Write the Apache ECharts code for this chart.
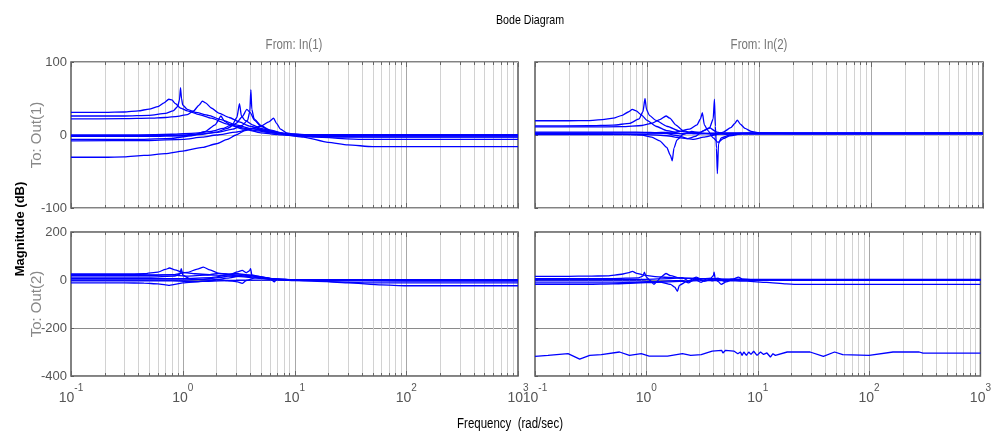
<!DOCTYPE html>
<html>
<head>
<meta charset="utf-8">
<title>Bode Diagram</title>
<script src="https://cdn.jsdelivr.net/npm/echarts@6/dist/echarts.min.js"></script>
<style>
  html, body { margin: 0; padding: 0; background: #fff; }
  #chart { width: 994px; height: 437px; }
</style>
</head>
<body>
<div id="chart"></div>
<script>
// Magnitude responses, [frequency rad/s, dB], one array per curve.

// From In(1) to Out(1)
const tl1 = [[0.1,31],[0.2,31],[0.3,31.5],[0.4,33],[0.5,35.5],[0.6,39],[0.68,44],[0.75,49],[0.8,48],[0.86,43],[0.95,37],[1.1,33],[1.4,28],[1.8,23],[2.5,15],[3.5,8],[5,3],[7,0.5],[10,-1],[20,-3],[1000,-3]];
const tl2 = [[0.1,26],[0.3,26],[0.5,27],[0.7,29.5],[0.82,33],[0.9,39],[0.935,48],[0.955,65],[0.975,50],[1.0,41],[1.1,35],[1.3,31],[1.7,27],[2.2,21],[3,14],[4,9],[6,4],[9,1],[15,-1],[1000,-1]];
const tl3 = [[0.1,22],[0.3,22.3],[0.5,23],[0.7,24],[0.9,25.5],[1.1,28],[1.25,33],[1.4,41],[1.5,46.5],[1.6,44],[1.8,37],[2.1,30],[2.6,24],[3.2,18],[4,12],[5.5,6],[8,2],[12,0],[1000,-0.5]];
const tl4 = [[0.1,0],[0.4,0.3],[0.8,1],[1.3,2.5],[1.8,5],[2.3,9],[2.8,15],[3.05,24],[3.22,43],[3.35,26],[3.6,20],[4.2,14],[5,9],[6.5,4],[9,1],[15,0],[1000,0]];
const tl5 = [[0.1,-1],[0.5,-0.7],[1,0],[1.5,1.5],[2,3.5],[2.8,8],[3.4,13],[3.8,20],[3.98,32],[4.07,62],[4.15,35],[4.35,22],[5,13],[6,7],[8,2.5],[10,0],[20,-2],[50,-2.5],[1000,-2.5]];
const tl6 = [[0.1,-2],[0.5,-1.8],[1,-1],[1.5,1],[2,4],[2.5,9],[3,16],[3.4,25],[3.75,35],[4.0,31],[4.4,20],[5,12],[6,6],[8,2],[10,0],[30,0],[1000,0]];
const tl7 = [[0.1,-6],[0.4,-6],[0.8,-4.5],[1.2,-1],[1.6,5],[1.95,14],[2.2,26],[2.35,19],[2.6,15],[3,12],[3.6,9],[4.5,6],[6,3],[9,0],[15,-3],[40,-6],[1000,-6]];
const tl8 = [[0.1,-8],[0.5,-7.5],[1,-6],[1.5,-3],[2,0],[3,4],[4,8],[5,12],[5.9,18],[6.5,23],[6.9,16],[7.5,8],[8.5,3],[10,1],[15,0],[1000,0]];
const tl9 = [[0.1,-30.5],[0.2,-30.5],[0.3,-30],[0.45,-28],[0.7,-25.5],[1,-22],[1.5,-17],[2,-12],[2.5,-6],[3,0],[3.6,6],[4.2,9],[5,7],[6.5,3],[8.5,0],[12,-3],[20,-10],[30,-13.5],[50,-16],[1000,-16]];

// From In(2) to Out(1)
const tr1 = [[0.1,19.5],[0.2,19.5],[0.3,19.7],[0.4,21],[0.5,23],[0.6,27],[0.68,31.5],[0.74,35],[0.8,33],[0.9,27],[1,20],[1.2,12],[1.5,6],[2,2],[3,2],[10,2.5],[1000,2.5]];
const tr2 = [[0.1,12.5],[0.3,12.7],[0.5,13.5],[0.7,16],[0.85,22],[0.92,32],[0.96,50],[0.99,35],[1.05,27],[1.2,20],[1.5,12],[2,5],[2.8,2],[5,3],[1000,3]];
const tr3 = [[0.1,11],[0.3,11],[0.6,11.5],[0.9,13],[1.1,16],[1.3,21],[1.48,26],[1.6,23],[1.8,14],[2.1,6],[2.6,2],[4,2],[1000,2]];
const tr4 = [[0.1,2],[0.5,1.5],[0.9,0],[1.1,-3],[1.3,-8],[1.5,-17],[1.62,-28],[1.68,-35.5],[1.74,-18],[1.85,-7],[2.1,1],[2.5,5],[3,3],[4,1],[7,2],[1000,2]];
const tr5 = [[0.1,1],[1,1.5],[2,2],[3,4],[3.6,9],[3.9,22],[4.0,49],[4.08,12],[4.17,-18],[4.25,-53],[4.35,-12],[4.6,-4],[5.5,0],[7,1.5],[1000,1.5]];
const tr6 = [[0.1,3],[1,3],[1.8,4],[2.4,8],[2.8,14],[3.0,22],[3.12,30.5],[3.25,14],[3.5,6],[3.9,-4],[4.3,-10],[4.8,-5],[5.5,-1],[7,1.5],[1000,2]];
const tr7 = [[0.1,0.5],[1,0.5],[1.5,-1],[2,-4],[2.6,-6],[3.2,-3],[4,0],[4.8,4],[5.6,10],[6.1,16],[6.4,20.5],[6.8,15],[7.5,9],[8.5,5],[10,3],[20,2],[1000,2]];
const tr8 = [[0.1,4],[0.8,4],[1.4,3],[1.9,-1],[2.3,-5],[2.7,-2],[3.2,6],[3.6,10],[4.2,4],[5,1],[8,2.5],[1000,3]];

// From In(1) to Out(2)
const bl1 = [[0.1,25],[0.3,25],[0.45,26],[0.6,33],[0.7,44],[0.76,50],[0.85,42],[1,32],[1.3,26],[2,20],[3,15],[5,7],[8,2],[12,0],[1000,0]];
const bl2 = [[0.1,-12],[0.3,-12],[0.45,-13],[0.6,-16],[0.7,-20],[0.76,-22],[0.85,-18],[1,-12],[1.5,-6],[3,-1],[8,0],[15,-3],[30,-12],[60,-20],[100,-24],[1000,-24]];
const bl3 = [[0.1,18],[0.5,18.5],[0.8,22],[1.1,32],[1.35,45],[1.53,54],[1.75,42],[2.1,28],[2.8,22],[4,14],[6,6],[10,0],[30,-3],[100,-5],[1000,-5]];
const bl4 = [[0.1,12],[0.5,12],[0.85,16],[0.94,25],[0.97,47],[1.0,20],[1.15,6],[1.5,2],[2,9],[2.8,18],[3.5,22],[4.5,16],[6.5,4],[10,-1],[1000,-1]];
const bl5 = [[0.1,6],[1,6],[1.8,10],[2.6,22],[3.1,34],[3.4,40],[3.7,30],[3.95,38],[4.05,47],[4.15,20],[4.8,10],[6.2,2],[6.6,-8],[6.9,3],[10,0],[1000,0]];
const bl6 = [[0.1,0],[1,0],[1.8,4],[2.5,-2],[3.1,-8],[3.4,-14],[3.7,-2],[4.5,10],[5.5,8],[7,3],[10,-3],[20,-7],[50,-12],[1000,-12]];
const bl7 = [[0.1,-4],[0.8,-4],[1.3,-7],[1.8,-2],[2.5,8],[3.3,16],[4.2,20],[5.2,12],[6.5,4],[10,1],[1000,1]];
const bl8 = [[0.1,22],[0.4,22],[0.8,21],[1.1,16],[1.6,20],[2.1,28],[2.5,24],[3,27],[3.8,21],[5,12],[7,4],[10,0],[20,-2],[1000,-2]];

// From In(2) to Out(2)
const br1 = [[0.1,15],[0.2,15.5],[0.3,16],[0.45,17.5],[0.6,24],[0.7,31],[0.75,36],[0.82,28],[0.95,20],[1.2,14],[1.8,9],[3,5],[6,2],[10,0],[1000,0]];
const br2 = [[0.1,6],[0.5,6],[0.85,9],[0.93,16],[0.96,33],[1.0,12],[1.08,-2],[1.17,-18],[1.25,-5],[1.35,12],[1.5,27],[1.65,18],[2,8],[3,7],[5,4],[10,2],[1000,2]];
const br3 = [[0.1,-4],[0.8,-4],[1.3,-8],[1.65,-18],[1.8,-30],[1.9,-47],[1.98,-22],[2.3,-6],[3,3],[3.8,8],[4.0,18],[4.06,33],[4.15,6],[4.4,-6],[4.7,-18],[5.2,-8],[6,3],[6.7,12],[7.3,4],[9,1],[1000,0]];
const br4 = [[0.1,-12],[0.5,-12],[1,-9],[1.6,-4],[2.1,-2],[2.4,-12],[2.7,4],[3.1,-10],[3.5,6],[3.9,-4],[4.4,4],[5.2,0],[10,0],[1000,0]];
const br5 = [[0.1,-18],[0.3,-18],[0.5,-16],[1,-11],[2,-6],[3,-3],[5,-2],[8,-5],[12,-10],[18,-16],[22,-18],[1000,-18]];
const br6 = [[0.1,3],[1,3],[1.6,6],[2.1,10],[2.4,-4],[2.8,12],[3.3,-6],[3.8,2],[4.4,8],[5,-6],[5.8,4],[7,2],[10,1],[1000,1]];
const br7 = [[0.1,-318],[0.131,-314],[0.198,-307],[0.252,-330],[0.31,-314],[0.394,-311],[0.574,-300],[0.705,-314],[0.9,-307],[1.06,-317],[1.55,-317],[2.11,-307],[2.5,-314],[3.11,-311],[3.9,-296],[4.74,-293],[4.87,-304],[5.14,-293],[6.1,-296],[6.63,-307],[7.0,-300],[7.24,-314],[7.5,-300],[7.92,-314],[8.3,-300],[8.7,-310],[9.2,-297],[9.86,-314],[10.6,-300],[11.3,-310],[12.1,-304],[13,-321],[13.7,-307],[14.4,-314],[14.9,-307],[18.4,-300],[29.5,-300],[38.9,-318],[49,-300],[58,-311],[100,-314],[164,-300],[282,-300],[305,-305],[1000,-305]];

const panelCurves = [
  [tl1, tl2, tl3, tl4, tl5, tl6, tl7, tl8, tl9],
  [tr1, tr2, tr3, tr4, tr5, tr6, tr7, tr8],
  [bl1, bl2, bl3, bl4, bl5, bl6, bl7, bl8],
  [br1, br2, br3, br4, br5, br6, br7]
];

// Axis ranges and tick steps
const freqMin = 0.1, freqMax = 1000;
const topRange = { min: -100, max: 100, interval: 100 };
const bottomRange = { min: -400, max: 200, interval: 200 };

// Log grid positions: 1..9 within each decade
const gridFreqs = [];
for (let d = -1; d <= 2; d++) {
  for (let k = 1; k <= 9; k++) gridFreqs.push(+(k * Math.pow(10, d)).toPrecision(3));
}
gridFreqs.push(1000);

const sans = '"Liberation Sans", Arial, sans-serif';

const grids = [
  { left: 71, top: 62, width: 447, height: 146 },
  { left: 535, top: 62, width: 448, height: 146 },
  { left: 71, top: 232, width: 447, height: 144 },
  { left: 535, top: 232, width: 448, height: 144 }
].map(g => Object.assign({ show: true, borderColor: '#5a5a5a', borderWidth: 1.5, backgroundColor: '#fff', containLabel: false }, g));

const xAxes = grids.map((g, i) => ({
  type: 'log',
  logBase: 10,
  gridIndex: i,
  min: freqMin,
  max: freqMax,
  axisLine: { show: false },
  axisTick: { show: false },
  splitLine: { show: false },
  axisLabel: {
    show: i >= 2,
    margin: 7,
    showMinLabel: true,
    showMaxLabel: true,
    formatter: v => '{b|10}{e|' + Math.round(Math.log10(v)) + '}',
    rich: {
      b: { fontFamily: sans, fontSize: 14, color: '#555', verticalAlign: 'bottom', lineHeight: 22 },
      e: { fontFamily: sans, fontSize: 10, color: '#555', verticalAlign: 'top', lineHeight: 22 }
    }
  }
}));

const yAxes = grids.map((g, i) => {
  const r = i < 2 ? topRange : bottomRange;
  return {
    type: 'value',
    gridIndex: i,
    min: r.min,
    max: r.max,
    interval: r.interval,
    axisLine: { show: false },
    axisTick: { show: true, inside: true, length: 3, lineStyle: { color: '#5a5a5a' } },
    splitLine: { show: true, lineStyle: { color: i < 2 ? '#c4c4c4' : '#8a8a8a', width: 1 } },
    axisLabel: { show: i === 0 || i === 2, color: '#555', fontFamily: sans, fontSize: 13, margin: 4 }
  };
});

// Vertical log grid with small ticks along the top and bottom edges
function gridSeries(i) {
  return {
    type: 'custom',
    xAxisIndex: i,
    yAxisIndex: i,
    silent: true,
    z: 1,
    clip: false,
    data: gridFreqs.map(f => [f]),
    encode: { x: 0 },
    renderItem: (params, api) => {
      const f = api.value(0);
      const cs = params.coordSys;
      const x = Math.round(api.coord([f, 0])[0]) + 0.5;
      const decade = Math.abs(Math.log10(f) - Math.round(Math.log10(f))) < 1e-6;
      const children = [];
      if (f > freqMin && f < freqMax) {
        children.push({
          type: 'line',
          shape: { x1: x, y1: cs.y, x2: x, y2: cs.y + cs.height },
          style: { stroke: decade ? '#a8a8a8' : '#d2d2d2', lineWidth: 1 }
        });
      }
      const tl = decade ? 5 : 3;
      children.push({ type: 'line', shape: { x1: x, y1: cs.y, x2: x, y2: cs.y + tl }, style: { stroke: '#666', lineWidth: 1 } });
      children.push({ type: 'line', shape: { x1: x, y1: cs.y + cs.height, x2: x, y2: cs.y + cs.height - tl }, style: { stroke: '#666', lineWidth: 1 } });
      return { type: 'group', children };
    }
  };
}

const series = [];
for (let i = 0; i < 4; i++) series.push(gridSeries(i));
panelCurves.forEach((curves, i) => {
  curves.forEach(c => {
    series.push({
      type: 'line',
      xAxisIndex: i,
      yAxisIndex: i,
      data: c,
      showSymbol: false,
      symbol: 'none',
      smooth: c === br7 ? false : 0.2,
      smoothMonotone: 'x',
      z: 3,
      lineStyle: { color: '#0000ff', width: 1.3 }
    });
  });
});

// Narrow headings: regular sans squeezed horizontally
function heading(text, x, y, size, fill, extra) {
  return Object.assign({
    type: 'text', x, y, scaleX: 0.82,
    style: { text, font: size + 'px ' + sans, fill, textAlign: 'center', textVerticalAlign: 'middle' }
  }, extra || {});
}

const graphic = [
  heading('Bode Diagram', 530, 20, 13, '#000'),
  heading('From: In(1)', 294, 45, 14, '#777'),
  heading('From: In(2)', 759, 45, 14, '#777'),
  heading('Frequency  (rad/sec)', 510, 424, 14, '#000'),
  { type: 'text', x: 20, y: 229, rotation: Math.PI / 2, style: { text: 'Magnitude (dB)', font: 'bold 13px ' + sans, fill: '#000', textAlign: 'center', textVerticalAlign: 'middle' } },
  { type: 'text', x: 37, y: 135, rotation: Math.PI / 2, style: { text: 'To: Out(1)', font: '15px ' + sans, fill: '#888', textAlign: 'center', textVerticalAlign: 'middle' } },
  { type: 'text', x: 37, y: 304, rotation: Math.PI / 2, style: { text: 'To: Out(2)', font: '15px ' + sans, fill: '#888', textAlign: 'center', textVerticalAlign: 'middle' } }
];

const chart = echarts.init(document.getElementById('chart'), null, { renderer: 'canvas' });
chart.setOption({
  animation: false,
  backgroundColor: '#fff',
  grid: grids,
  xAxis: xAxes,
  yAxis: yAxes,
  series,
  graphic
});
</script>
</body>
</html>
